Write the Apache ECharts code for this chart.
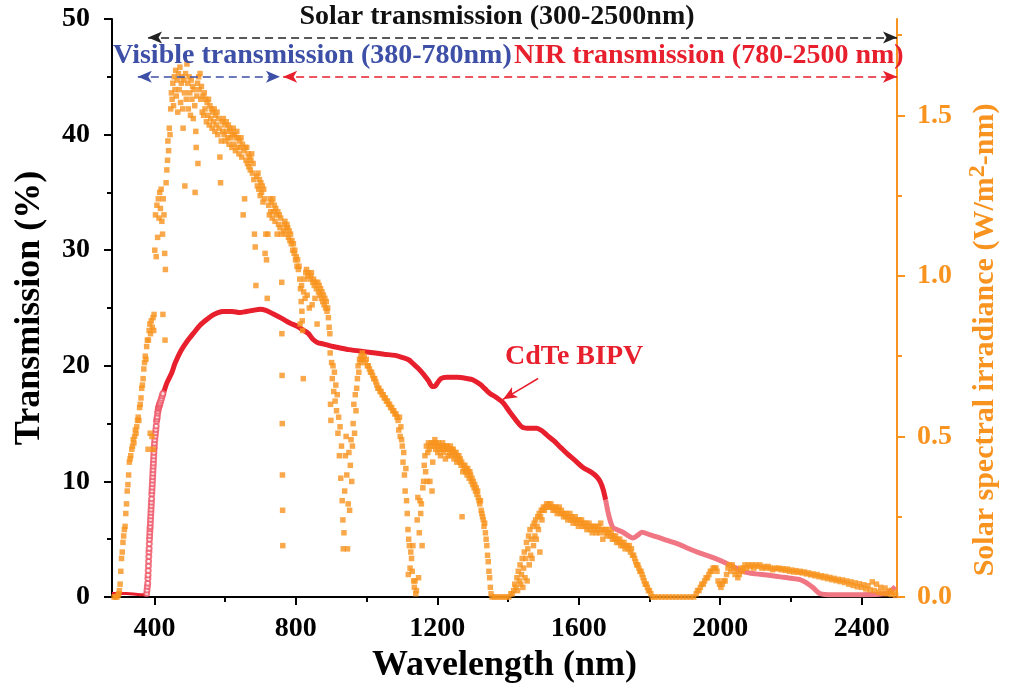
<!DOCTYPE html>
<html>
<head>
<meta charset="utf-8">
<script src="https://cdn.jsdelivr.net/npm/echarts@6/dist/echarts.min.js"></script>
<style>
  html, body { margin: 0; padding: 0; background: #fff; }
  #chart { width: 1011px; height: 696px; }
</style>
</head>
<body>
<div id="chart"></div>
<script>
// ---- Axis ticks ----
const xMajorTicks = [400, 800, 1200, 1600, 2000, 2400];
const xMinorTicks = [600, 1000, 1400, 1800, 2200];
const irrMajorTicks = [0, 0.5, 1.0, 1.5];
const irrMinorTicks = [0.25, 0.75, 1.25, 1.75];

// ---- CdTe BIPV transmission (%) vs wavelength (nm) ----
const cdteUV = [[280,0.3],[300,0.3],[320,0.3],[340,0.25],[360,0.2],[375,0.2],[378,0.3]];
const cdteEdge = [[378,0.3],[379,0.6],[380,0.9],[381,1.2],[381.5,1.6],[382,1.9],[382.5,2.3],[383,2.7],[383.5,3.1],[384,3.5],[384.5,3.9],[385,4.2],[385.5,4.6],[386,5.0],[386.5,5.3],[387,5.6],[387.5,5.9],[388,6.1],[388.5,6.4],[389,6.7],[389.5,7.0],[390,7.3],[390.5,7.6],[391,7.9],[391.5,8.2],[392,8.5],[392.5,8.9],[393,9.2],[393.5,9.5],[394,9.8],[394.5,10.1],[395,10.4],[395.5,10.7],[396,11.0],[396.5,11.3],[397,11.6],[397.5,11.9],[398,12.2],[398.5,12.5],[399,12.8],[399.5,13.0],[400,13.3],[401,13.6],[402,13.9],[403,14.2],[404,14.5],[405,14.8],[406,15.2],[407,15.4],[408,15.6],[409,15.9],[410,16.1],[411,16.3],[412,16.4],[413,16.5],[414,16.6],[415,16.7],[416,16.8],[418,17.0],[420,17.2],[422,17.4],[424,17.6]];
const cdteMain = [[420,17.2],[425,17.6],[435,18.5],[449,19.4],[458,20.2],[475,21.3],[492,22.1],[510,22.8],[529,23.5],[548,24.0],[566,24.4],[580,24.6],[594,24.7],[620,24.7],[642,24.6],[660,24.7],[680,24.8],[699,24.9],[715,24.8],[735,24.5],[760,24.1],[783,23.7],[805,23.4],[820,23.1],[835,22.8],[848,22.3],[862,22.0],[877,21.9],[900,21.7],[916,21.6],[950,21.4],[1000,21.2],[1050,21.0],[1080,20.9],[1103,20.7],[1120,20.5],[1131,20.2],[1145,19.8],[1160,19.3],[1175,18.7],[1186,18.2],[1192,18.2],[1200,18.5],[1210,18.9],[1227,19.0],[1256,19.0],[1284,18.9],[1300,18.8],[1321,18.4],[1335,18.0],[1349,17.6],[1365,17.3],[1386,16.8],[1405,16.0],[1425,15.2],[1440,14.7],[1460,14.6],[1481,14.6],[1495,14.4],[1510,14.0],[1530,13.5],[1550,12.9],[1567,12.4],[1590,11.8],[1612,11.2],[1635,10.8],[1651,10.4],[1662,9.9],[1669,9.3],[1676,8.4]];
const cdteTail = [[1676,8.4],[1683,7.3],[1690,6.5],[1697,6.0],[1710,5.8],[1725,5.6],[1740,5.3],[1753,5.1],[1765,5.3],[1779,5.6],[1800,5.4],[1821,5.2],[1850,4.9],[1880,4.6],[1910,4.2],[1943,3.8],[1980,3.4],[2019,2.9],[2045,2.5],[2065,2.2],[2100,2.0],[2132,1.9],[2180,1.7],[2226,1.5],[2245,1.2],[2263,0.8],[2282,0.3],[2319,0.2],[2400,0.2],[2470,0.3],[2485,0.6],[2495,0.9]];

// ---- Solar spectral irradiance (W/m2-nm) vs wavelength (nm) ----
const irrUV = [[286,0],[290,0],[294,0],[297,0.005],[299,0.01],[301,0.02],[303,0.04],[305,0.08],[307,0.12],[309,0.14],[311,0.17],[313,0.19],[315,0.21],[317,0.22],[319,0.26],[321,0.29],[323,0.33],[325,0.35],[327,0.38],[329,0.42],[331,0.43],[333,0.44],[336,0.46],[338,0.47],[340,0.49],[342,0.48],[344,0.50],[346,0.52],[348,0.51],[350,0.53],[352,0.55],[354,0.56],[356,0.55],[358,0.59],[360,0.60],[362,0.62],[364,0.65],[366,0.66],[368,0.68],[370,0.71],[372,0.73],[374,0.75],[376,0.74],[378,0.78],[380,0.80],[382,0.46],[383,0.80],[385,0.83],[387,0.85],[388,0.51],[389,0.82],[391,0.86],[393,0.50],[394,0.84],[396,0.87],[397,0.46],[398,0.83],[399,0.88]];
const irrVisible = [[401,1.08],[403,1.19],[405,1.06],[407,1.22],[409,1.12],[411,1.24],[413,1.18],[415,1.26],[417,1.21],[419,1.27],[421,1.17],[423,1.13],[424,0.88],[425,1.24],[427,1.19],[429,1.07],[430,0.80],[431,1.02],[433,1.29],[435,1.33],[437,1.36],[438,1.42],[440,1.39],[442,1.46],[444,1.44],[446,1.52],[448,1.57],[450,1.55],[452,1.60],[454,1.53],[456,1.62],[458,1.58],[460,1.64],[462,1.56],[464,1.61],[466,1.51],[468,1.63],[470,1.58],[472,1.65],[474,1.54],[476,1.60],[478,1.62],[480,1.52],[481,1.46],[483,1.61],[485,1.57],[486,1.28],[488,1.63],[490,1.55],[492,1.66],[494,1.60],[496,1.52],[498,1.62],[500,1.57],[502,1.50],[504,1.61],[506,1.55],[508,1.59],[510,1.49],[512,1.58],[514,1.53],[515,1.26],[517,1.45],[518,1.40],[520,1.56],[522,1.60],[523,1.35],[525,1.62],[527,1.58],[529,1.63],[531,1.55],[533,1.59],[535,1.51],[537,1.56],[539,1.50],[541,1.57],[543,1.52],[545,1.55],[547,1.48],[549,1.54],[551,1.50],[553,1.55],[555,1.47],[557,1.53],[559,1.49],[561,1.52],[563,1.46],[565,1.51],[567,1.48],[569,1.52],[571,1.45],[573,1.50],[575,1.47],[577,1.51],[579,1.44],[581,1.49],[583,1.46],[585,1.37],[587,1.29],[589,1.42],[591,1.48],[593,1.45],[595,1.49],[597,1.44],[599,1.47],[601,1.42],[603,1.48],[605,1.45],[607,1.43],[609,1.47],[611,1.41],[613,1.46],[615,1.43],[617,1.45],[619,1.40],[621,1.44],[623,1.46],[625,1.41],[627,1.44],[629,1.39],[631,1.43],[633,1.45],[635,1.40],[637,1.43],[639,1.38],[641,1.42],[643,1.40],[645,1.43],[647,1.37],[649,1.41],[651,1.19],[653,1.39],[655,1.24],[657,1.40],[659,1.36],[661,1.40],[663,1.35],[665,1.38],[667,1.34],[669,1.37],[671,1.33],[673,1.36],[675,1.38],[677,1.32],[679,1.35],[681,1.30],[683,1.13],[685,1.09],[687,0.97],[689,1.31],[691,1.28],[693,1.32],[695,1.27],[697,1.30],[699,1.25],[701,1.29],[703,1.26],[705,1.28],[707,1.23],[709,1.27],[711,1.24],[713,1.07],[715,1.13],[717,1.05],[719,0.93],[721,1.13],[723,1.22],[725,1.19],[727,1.24],[729,1.20],[731,1.23],[733,1.18],[735,1.24],[737,1.20],[739,1.22],[741,1.17],[743,1.21],[745,1.19],[747,1.13],[749,1.20],[751,1.16],[753,1.19],[755,1.15],[757,1.18],[759,1.13],[760,0.98],[760.5,0.82],[761,0.69],[761.5,0.54],[762,0.38],[762.5,0.27],[763,0.16],[765,1.14],[767,1.16],[769,1.17],[771,1.13],[773,1.15],[775,1.16]];
const irrNearIR = [[777,1.15],[779,1.12],[781,1.14],[783,1.11],[785,1.13],[787,1.10],[789,1.11],[791,1.08],[793,1.10],[795,1.07],[797,1.08],[799,1.05],[801,1.06],[803,1.03],[805,1.05],[807,1.02],[809,1.03],[811,0.99],[812,0.85],[813,0.96],[815,0.92],[816,0.97],[817,0.89],[818,0.86],[819,0.83],[821,0.68],[822,0.95],[824,0.99],[826,0.93],[828,1.01],[830,1.02],[832,0.94],[834,1.00],[836,1.01],[838,0.90],[840,0.99],[842,1.00],[844,1.01],[846,0.91],[848,0.98],[850,0.99],[852,0.97],[854,0.93],[856,0.98],[858,0.96],[860,0.85],[862,0.98],[864,0.95],[866,0.97],[868,0.94],[870,0.96],[872,0.93],[874,0.95],[876,0.92],[878,0.94],[880,0.91],[882,0.93],[884,0.90],[886,0.92],[888,0.89],[890,0.90],[892,0.87],[894,0.84],[896,0.82],[897,0.76],[898,0.60],[899,0.55],[901,0.73],[903,0.68],[905,0.72],[907,0.64],[909,0.70],[911,0.61],[913,0.66],[915,0.58],[917,0.63],[919,0.51],[921,0.56],[923,0.44],[925,0.53],[927,0.37],[929,0.47],[931,0.30],[933,0.24],[934,0.15],[936,0.20],[938,0.33],[940,0.44],[942,0.50],[944,0.38],[946,0.15],[948,0.29],[950,0.45],[952,0.27],[954,0.41],[956,0.49],[958,0.36],[960,0.47],[962,0.54],[964,0.60],[966,0.51],[968,0.63],[970,0.58],[972,0.65],[974,0.68],[976,0.72],[978,0.70],[980,0.74],[982,0.73],[984,0.75],[986,0.74],[988,0.76],[990,0.74],[993,0.75],[996,0.73],[999,0.74],[1002,0.72],[1005,0.72],[1008,0.71],[1011,0.70],[1014,0.70],[1017,0.69],[1020,0.68],[1023,0.68],[1026,0.67],[1029,0.66],[1032,0.65],[1035,0.65],[1038,0.64],[1041,0.64],[1044,0.63],[1047,0.63],[1050,0.62],[1053,0.62],[1056,0.61],[1059,0.61],[1062,0.60],[1065,0.60],[1068,0.59],[1071,0.59],[1074,0.58],[1077,0.58],[1080,0.57],[1083,0.57],[1086,0.56],[1089,0.55],[1091,0.52],[1093,0.56],[1095,0.50],[1097,0.53],[1099,0.49],[1101,0.47],[1103,0.42],[1105,0.45],[1107,0.38],[1109,0.33],[1111,0.40],[1113,0.30],[1115,0.26],[1117,0.21],[1118,0.07],[1119,0.18],[1121,0.16],[1123,0.09],[1125,0.14],[1127,0.12],[1129,0.08],[1131,0.16],[1133,0.05],[1135,0.03],[1137,0.05],[1139,0.01],[1141,0.02],[1143,0.24],[1145,0.31],[1147,0.06],[1149,0.20],[1151,0.30],[1153,0.26],[1155,0.29],[1157,0.16],[1159,0.34],[1161,0.36],[1163,0.41],[1165,0.44],[1167,0.39],[1169,0.47],[1171,0.36],[1173,0.45],[1175,0.48]];
const irrBand1250 = [[1177,0.46],[1179,0.36],[1181,0.47],[1183,0.48],[1185,0.33],[1187,0.42],[1189,0.48],[1191,0.47],[1193,0.49],[1195,0.46],[1197,0.48],[1199,0.47],[1201,0.45],[1203,0.48],[1205,0.46],[1207,0.47],[1209,0.44],[1211,0.47],[1213,0.46],[1215,0.48],[1217,0.45],[1219,0.47],[1221,0.46],[1223,0.43],[1225,0.47],[1227,0.46],[1229,0.47],[1231,0.44],[1233,0.46],[1235,0.45],[1237,0.47],[1239,0.44],[1241,0.46],[1243,0.45],[1245,0.46],[1247,0.43],[1249,0.45],[1251,0.44],[1253,0.45],[1255,0.42],[1257,0.44],[1259,0.43],[1261,0.44],[1263,0.42],[1265,0.43],[1267,0.41],[1269,0.42],[1270,0.25],[1272,0.39],[1274,0.41],[1276,0.40],[1278,0.41],[1280,0.39],[1282,0.40],[1284,0.38],[1286,0.40],[1288,0.39],[1290,0.37],[1292,0.39],[1294,0.38],[1296,0.36],[1298,0.37],[1300,0.35],[1302,0.36],[1304,0.34],[1306,0.35],[1308,0.33],[1310,0.34],[1312,0.32],[1314,0.33],[1316,0.31],[1318,0.30],[1320,0.29],[1322,0.30],[1324,0.27],[1326,0.26],[1328,0.25],[1330,0.24],[1332,0.22],[1334,0.23],[1336,0.20],[1338,0.18],[1340,0.16],[1342,0.13],[1344,0.11],[1346,0.08],[1348,0.06],[1350,0.03],[1352,0.01],[1355,0],[1362,0],[1370,0],[1378,0],[1386,0],[1394,0],[1402,0],[1408,0.01]];
const irrBand1600 = [[1412,0.01],[1416,0.02],[1419,0.04],[1422,0.03],[1425,0.06],[1427,0.02],[1429,0.08],[1432,0.05],[1434,0.10],[1436,0.04],[1438,0.07],[1440,0.12],[1442,0.03],[1444,0.09],[1446,0.14],[1448,0.06],[1450,0.12],[1452,0.17],[1454,0.05],[1456,0.15],[1458,0.19],[1460,0.10],[1462,0.21],[1464,0.13],[1466,0.18],[1468,0.12],[1470,0.22],[1472,0.16],[1474,0.23],[1476,0.19],[1478,0.24],[1480,0.18],[1482,0.22],[1484,0.25],[1486,0.21],[1488,0.26],[1490,0.14],[1492,0.25],[1494,0.27],[1496,0.24],[1498,0.27],[1500,0.28],[1503,0.27],[1506,0.28],[1509,0.29],[1512,0.28],[1515,0.29],[1518,0.28],[1521,0.29],[1524,0.28],[1527,0.27],[1530,0.28],[1533,0.27],[1536,0.28],[1539,0.26],[1542,0.27],[1545,0.28],[1548,0.26],[1551,0.27],[1554,0.26],[1557,0.25],[1560,0.26],[1563,0.25],[1566,0.26],[1569,0.24],[1572,0.25],[1575,0.26],[1578,0.24],[1581,0.25],[1584,0.23],[1587,0.24],[1590,0.25],[1593,0.23],[1596,0.24],[1599,0.22],[1602,0.24],[1605,0.23],[1608,0.24],[1611,0.22],[1614,0.23],[1617,0.22],[1620,0.23],[1623,0.21],[1626,0.22],[1629,0.23],[1632,0.21],[1635,0.22],[1638,0.20],[1641,0.22],[1644,0.21],[1647,0.22],[1650,0.20],[1653,0.21],[1656,0.22],[1659,0.20],[1662,0.23],[1665,0.21],[1668,0.18],[1671,0.21],[1674,0.20],[1677,0.21],[1680,0.19],[1683,0.20],[1686,0.21],[1689,0.19],[1692,0.20],[1695,0.18],[1698,0.19],[1701,0.18],[1704,0.19],[1707,0.17],[1710,0.18],[1713,0.17],[1716,0.18],[1719,0.16],[1722,0.17],[1725,0.16],[1728,0.17],[1731,0.15],[1734,0.16],[1737,0.16],[1740,0.15],[1743,0.16],[1746,0.14],[1749,0.15],[1752,0.13],[1755,0.13],[1758,0.12],[1761,0.11],[1764,0.10],[1767,0.10],[1770,0.09],[1773,0.08],[1776,0.08],[1779,0.07],[1782,0.06],[1785,0.05],[1788,0.04],[1791,0.04],[1794,0.03],[1797,0.02],[1800,0.02],[1804,0.01],[1808,0],[1815,0],[1825,0],[1835,0],[1845,0],[1855,0],[1865,0],[1875,0],[1885,0],[1895,0],[1905,0],[1915,0],[1925,0]];
const irrBand2200 = [[1932,0.01],[1936,0.02],[1940,0.02],[1944,0.03],[1948,0.04],[1952,0.04],[1956,0.05],[1960,0.06],[1964,0.06],[1968,0.07],[1972,0.08],[1976,0.08],[1980,0.09],[1984,0.09],[1988,0.09],[1991,0.08],[1994,0.05],[1998,0.04],[2002,0.03],[2006,0.04],[2010,0.05],[2014,0.05],[2018,0.07],[2022,0.09],[2026,0.10],[2030,0.08],[2034,0.10],[2038,0.09],[2042,0.07],[2046,0.08],[2050,0.06],[2054,0.07],[2058,0.09],[2062,0.08],[2066,0.09],[2070,0.10],[2075,0.09],[2080,0.10],[2085,0.095],[2090,0.10],[2095,0.09],[2100,0.10],[2106,0.095],[2112,0.10],[2118,0.09],[2124,0.095],[2130,0.09],[2136,0.095],[2142,0.09],[2148,0.085],[2154,0.09],[2160,0.088],[2166,0.09],[2172,0.085],[2178,0.088],[2184,0.083],[2190,0.087],[2196,0.08],[2202,0.084],[2208,0.078],[2214,0.082],[2220,0.077],[2226,0.08],[2232,0.075],[2238,0.078],[2244,0.072],[2250,0.075],[2256,0.069],[2262,0.072],[2268,0.066],[2274,0.07],[2280,0.063],[2286,0.066],[2292,0.06],[2298,0.064],[2304,0.057],[2310,0.061],[2316,0.054],[2322,0.058],[2328,0.051],[2334,0.055],[2340,0.048],[2346,0.053],[2352,0.045],[2358,0.05],[2364,0.04],[2370,0.047],[2376,0.036],[2382,0.044],[2388,0.032],[2394,0.041],[2400,0.03],[2406,0.038],[2412,0.025],[2418,0.035],[2424,0.022],[2430,0.047],[2436,0.02],[2442,0.04],[2448,0.015],[2454,0.03],[2460,0.012],[2466,0.028],[2472,0.01],[2478,0.02],[2484,0.008],[2490,0.015],[2496,0.005]];

// ---- Spectral ranges marked above the curves: [start nm, end nm, level %] ----
const solarRange = [382, 2500, 48.4];
const visibleRange = [353, 755, 45.0];
const nirRange = [764, 2500, 45.0];
// Pointer from the "CdTe BIPV" label to its curve: [from nm, from %, to nm, to %]
const cdtePointer = [1485, 18.9, 1386, 17.1];

const SERIF = "'Liberation Serif', 'Times New Roman', serif";
const RED = '#E81F2D';
const ORANGE = '#F7931E';
const BLUE = '#3D4FA6';

const chart = echarts.init(document.getElementById('chart'), null, { renderer: 'canvas' });

function rangeLine(r, color) {
  return [
    { coord: [r[0], r[2]], lineStyle: { color: color, type: [8, 5], width: 1.6 }, itemStyle: { color: color } },
    { coord: [r[1], r[2]] }
  ];
}

const option = {
  animation: false,
  backgroundColor: '#fff',
  grid: { left: 112, right: 114, top: 19, bottom: 99, containLabel: false },
  xAxis: [
    {
      type: 'value', min: 280, max: 2500,
      axisLine: { lineStyle: { color: '#000', width: 2 } },
      axisTick: { customValues: xMajorTicks, length: 8, lineStyle: { color: '#000', width: 2 } },
      axisLabel: { customValues: xMajorTicks, margin: 18, color: '#000', fontSize: 28, fontWeight: 'bold', fontFamily: SERIF,
                   formatter: v => String(v) },
      splitLine: { show: false },
      name: 'Wavelength (nm)', nameLocation: 'middle', nameGap: 48,
      nameTextStyle: { color: '#000', fontSize: 36, fontWeight: 'bold', fontFamily: SERIF }
    },
    {
      type: 'value', min: 280, max: 2500, position: 'bottom',
      axisLine: { show: false },
      axisTick: { customValues: xMinorTicks, length: 5, lineStyle: { color: '#000', width: 2 } },
      axisLabel: { show: false },
      splitLine: { show: false }
    }
  ],
  yAxis: [
    {
      type: 'value', min: 0, max: 50, interval: 10, position: 'left',
      axisLine: { show: true, lineStyle: { color: '#000', width: 2 } },
      axisTick: { show: true, length: 8, lineStyle: { color: '#000', width: 2 } },
      minorTick: { show: true, splitNumber: 2, length: 5, lineStyle: { color: '#000', width: 2 } },
      axisLabel: { margin: 22, color: '#000', fontSize: 28, fontWeight: 'bold', fontFamily: SERIF },
      splitLine: { show: false },
      name: 'Transmission (%)', nameLocation: 'middle', nameRotate: 90, nameGap: 64,
      nameTextStyle: { color: '#000', fontSize: 36, fontWeight: 'bold', fontFamily: SERIF }
    },
    {
      type: 'value', min: 0, max: 1.8, position: 'right', offset: 0,
      axisLine: { show: true, lineStyle: { color: ORANGE, width: 2 } },
      axisTick: { show: true, customValues: irrMajorTicks, length: 8, lineStyle: { color: ORANGE, width: 2 } },
      axisLabel: { customValues: irrMajorTicks, margin: 20, color: ORANGE, fontSize: 28, fontWeight: 'bold', fontFamily: SERIF,
                   formatter: v => Number(v).toFixed(1) },
      splitLine: { show: false }
    },
    {
      type: 'value', min: 0, max: 1.8, position: 'right', offset: 0,
      axisLine: { show: false },
      axisTick: { show: true, customValues: irrMinorTicks, length: 5, lineStyle: { color: ORANGE, width: 2 } },
      axisLabel: { show: false },
      splitLine: { show: false }
    }
  ],
  series: [
    {
      name: 'CdTe BIPV (UV)', type: 'line', xAxisIndex: 0, yAxisIndex: 0,
      data: cdteUV, showSymbol: false, symbol: 'none',
      lineStyle: { color: RED, width: 3 }, z: 3
    },
    {
      name: 'CdTe BIPV (edge)', type: 'scatter', xAxisIndex: 0, yAxisIndex: 0,
      data: cdteEdge, symbol: 'emptyCircle', symbolSize: 5,
      itemStyle: { color: '#EE5566', borderWidth: 1 }, z: 3
    },
    {
      name: 'CdTe BIPV', type: 'line', xAxisIndex: 0, yAxisIndex: 0,
      data: cdteMain, showSymbol: false, symbol: 'none', smooth: 0.3,
      lineStyle: { color: RED, width: 5 }, z: 3,
      markLine: {
        silent: true, animation: false,
        symbol: ['arrow', 'arrow'], symbolSize: [9, 14],
        label: { show: false },
        data: [
          rangeLine(solarRange, '#222'),
          rangeLine(visibleRange, BLUE),
          rangeLine(nirRange, RED),
          [
            { coord: [cdtePointer[0], cdtePointer[1]], symbol: 'none', lineStyle: { color: RED, type: 'solid', width: 1.5 } },
            { coord: [cdtePointer[2], cdtePointer[3]], symbol: 'arrow', symbolSize: [9, 14], itemStyle: { color: RED } }
          ]
        ]
      }
    },
    {
      name: 'CdTe BIPV (tail)', type: 'line', xAxisIndex: 0, yAxisIndex: 0,
      data: cdteTail, showSymbol: false, symbol: 'none', smooth: 0.3,
      lineStyle: { color: '#F07684', width: 5 }, z: 3
    },
    {
      name: 'AM1.5 solar irradiance', type: 'scatter', xAxisIndex: 0, yAxisIndex: 1,
      data: [].concat(irrUV, irrVisible, irrNearIR, irrBand1250, irrBand1600, irrBand2200),
      symbol: 'rect', symbolSize: 5.5,
      itemStyle: { color: ORANGE }, z: 4
    }
  ],
  graphic: [
    {
      type: 'text', x: 497, y: 17, z: 10,
      style: { text: 'Solar transmission (300-2500nm)', fill: '#111', font: 'bold 28px ' + SERIF,
               textAlign: 'center', textVerticalAlign: 'middle', align: 'center', verticalAlign: 'middle' }
    },
    {
      type: 'text', x: 113, y: 56, z: 10,
      style: { text: 'Visible transmission (380-780nm)', fill: BLUE, font: 'bold 28px ' + SERIF,
               textAlign: 'left', textVerticalAlign: 'middle', align: 'left', verticalAlign: 'middle' }
    },
    {
      type: 'text', x: 514, y: 56, z: 10,
      style: { text: 'NIR transmission (780-2500 nm)', fill: RED, font: 'bold 28px ' + SERIF,
               textAlign: 'left', textVerticalAlign: 'middle', align: 'left', verticalAlign: 'middle' }
    },
    {
      type: 'text', x: 505, y: 357, z: 10,
      style: { text: 'CdTe BIPV', fill: RED, font: 'bold 28px ' + SERIF,
               textAlign: 'left', textVerticalAlign: 'middle', align: 'left', verticalAlign: 'middle' }
    },
    {
      type: 'text', x: 985, y: 340, rotation: Math.PI / 2, z: 10,
      style: {
        text: '{a|Solar spectral irradiance (W/m}{s|2}{a|-nm)}',
        textAlign: 'center', textVerticalAlign: 'middle', align: 'center', verticalAlign: 'middle',
        rich: {
          a: { fill: ORANGE, color: ORANGE, fontSize: 30, fontWeight: 'bold', fontFamily: SERIF },
          s: { fill: ORANGE, color: ORANGE, fontSize: 24, fontWeight: 'bold', fontFamily: SERIF, padding: [0, 0, 14, 0] }
        }
      }
    }
  ]
};

chart.setOption(option);
</script>
</body>
</html>
